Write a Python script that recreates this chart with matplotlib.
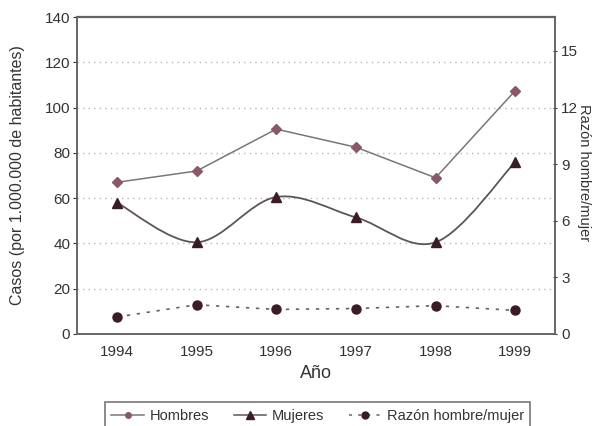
import numpy as np
import matplotlib
matplotlib.use("Agg")
import matplotlib.pyplot as plt
from matplotlib.path import Path
from matplotlib.patches import PathPatch
from matplotlib.lines import Line2D

plt.rcParams['font.family'] = ['Liberation Sans Narrow', 'Liberation Sans', 'DejaVu Sans']

# Datos
anios = [1994, 1995, 1996, 1997, 1998, 1999]
hombres = [67, 72, 90.5, 82.5, 69, 107.5]
mujeres = [58, 40.5, 60.5, 51.5, 40.5, 76]
razon = [0.9, 1.55, 1.3, 1.35, 1.5, 1.25]

c_linea = '#7d7478'
c_hom = '#8a5868'
c_oscuro = '#3c1c24'


def curva_suave(ax, x, y, **kw):
    # linea suavizada (catmull-rom -> bezier), como en la figura original
    x = np.asarray(x, float)
    y = np.asarray(y, float)
    px = np.r_[x[0], x, x[-1]]
    py = np.r_[y[0], y, y[-1]]
    verts = [(x[0], y[0])]
    codes = [Path.MOVETO]
    t = 6.0
    for i in range(1, len(px) - 2):
        c1 = (px[i] + (px[i + 1] - px[i - 1]) / t, py[i] + (py[i + 1] - py[i - 1]) / t)
        c2 = (px[i + 1] - (px[i + 2] - px[i]) / t, py[i + 1] - (py[i + 2] - py[i]) / t)
        verts += [c1, c2, (px[i + 1], py[i + 1])]
        codes += [Path.CURVE4] * 3
    ax.add_patch(PathPatch(Path(verts, codes), fill=False, **kw))


fig = plt.figure(figsize=(6.12, 4.26), dpi=100)
ax = fig.add_axes([0.126, 0.216, 0.781, 0.744])
ax2 = ax.twinx()

ax.set_xlim(1993.5, 1999.5)
ax.set_ylim(0, 140)
ax2.set_ylim(0, 16.8)

for v in range(20, 140, 20):
    ax.axhline(v, color='#b8b8b8', lw=1.0, ls=(0, (1, 3)), zorder=0)

ax.plot(anios, hombres, color=c_linea, lw=1.1, marker='D', ms=5.5,
        mfc=c_hom, mec=c_hom, zorder=3)
curva_suave(ax, anios, mujeres, color='#5e5458', lw=1.3, zorder=3)
ax.plot(anios, mujeres, ls='none', marker='^', ms=7, mfc=c_oscuro, mec=c_oscuro, zorder=4)
ax2.plot(anios, razon, color='#6a6066', lw=1.2, ls=(0, (2, 4)), marker='o', ms=6.5,
         mfc=c_oscuro, mec=c_oscuro, zorder=3)

ax.set_xticks(anios)
ax.set_yticks(range(0, 141, 20))
ax2.set_yticks(range(0, 16, 3))

for a in (ax, ax2):
    for s in a.spines.values():
        s.set_color('#666666')
        s.set_linewidth(1.2)
ax.spines['top'].set_color('#555555')
ax.spines['top'].set_linewidth(1.6)

ax.tick_params(axis='x', length=0, pad=8, labelsize=11, colors='#333333')
ax.tick_params(axis='y', length=3, direction='out', labelsize=11, colors='#333333', pad=2)
ax2.tick_params(axis='y', length=3, direction='inout', labelsize=11, colors='#333333', pad=3)

ax.set_xlabel('Año', fontsize=13, color='#333333', labelpad=4)
ax.set_ylabel('Casos (por 1.000.000 de habitantes)', fontsize=11.5, color='#333333')
ax.yaxis.set_label_coords(-0.11, 0.5)
ax2.set_ylabel('Razón hombre/mujer', fontsize=10.5, color='#333333', rotation=-90)
ax2.yaxis.set_label_coords(1.075, 0.51)

handles = [
    Line2D([], [], color=c_linea, lw=1.1, marker='o', ms=4, mfc=c_hom, mec=c_hom),
    Line2D([], [], color='#5e5458', lw=1.1, marker='^', ms=6, mfc=c_oscuro, mec=c_oscuro),
    Line2D([], [], color='#6a6066', lw=1.1, ls=(0, (2, 4)), marker='o', ms=5, mfc=c_oscuro, mec=c_oscuro),
]
leg = fig.legend(handles, ['Hombres', 'Mujeres', 'Razón hombre/mujer'],
                 loc='upper center', bbox_to_anchor=(0.519, 0.073), ncol=3,
                 frameon=True, fancybox=False, fontsize=10.5, handlelength=2.2,
                 columnspacing=1.7, handletextpad=0.4, borderpad=0.45)
leg.get_frame().set_edgecolor('#555555')
leg.get_frame().set_linewidth(1.2)
for t in leg.get_texts():
    t.set_color('#333333')

fig.savefig('out.png', dpi=100)
